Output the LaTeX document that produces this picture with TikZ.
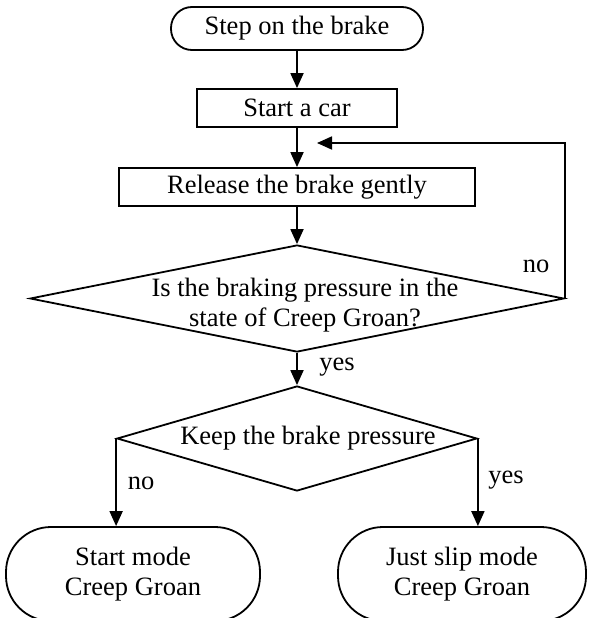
\documentclass[tikz,border=0pt]{standalone}
\usepackage{fontspec}
\setmainfont{Liberation Serif}
\usetikzlibrary{shapes.geometric, arrows.meta}
\begin{document}
\begin{tikzpicture}[x=1pt, y=-1pt, line width=1.8pt,
  every node/.style={font=\fontsize{26.5}{30}\selectfont},
  term/.style={draw, rectangle, inner sep=0pt, align=center},
  proc/.style={draw, rectangle, inner sep=0pt, minimum height=38pt},
  decision/.style={draw, diamond, inner sep=0pt},
  lbl/.style={inner sep=0pt, align=center},
  arr/.style={-{Triangle[length=15pt, width=13pt]}}]
\useasboundingbox (0,0) rectangle (589,618);
\clip (0,0) rectangle (589,618);

\node[term, rounded corners=21pt, minimum width=252pt, minimum height=43pt] (s0) at (297,28.5) {Step on the brake};
\node[proc, minimum width=200pt] (s1) at (297,108) {Start a car};
\node[proc, minimum width=356pt] (s2) at (297,187) {Release the brake gently};
\node[decision, minimum width=534pt, minimum height=107pt] (d1) at (297,298.5) {};
\node[lbl] (d1t) at (305,305) {Is the braking pressure in the\\state of Creep Groan?};
\node[decision, minimum width=360pt, minimum height=105pt] (d2) at (297,438.5) {};
\node[lbl] (d2t) at (308,438) {Keep the brake pressure};
\node[term, rounded corners=45pt, minimum width=254pt, minimum height=94pt] (e1) at (133,574) {Start mode\\Creep Groan};
\node[term, rounded corners=45pt, minimum width=248pt, minimum height=94pt] (e2) at (462,574) {Just slip mode\\Creep Groan};

\coordinate (fb) at (317,143);

\draw[arr] (s0) -- (s1);
\draw[arr] (s1) -- (s2);
\draw[arr] (s2) -- (d1);
\draw[arr] (d1) -- (d2);
\draw[arr] (d1.east) |- (fb);
\draw[arr] (d2.west) -- (d2.west |- e1.north);
\draw[arr] (d2.east) -- (d2.east |- e2.north);

\node[lbl] (no1) at (536,266) {no};
\node[lbl] (yes1) at (337,367) {yes};
\node[lbl] (no2) at (141,483) {no};
\node[lbl] (yes2) at (506,480) {yes};
\end{tikzpicture}
\end{document}
